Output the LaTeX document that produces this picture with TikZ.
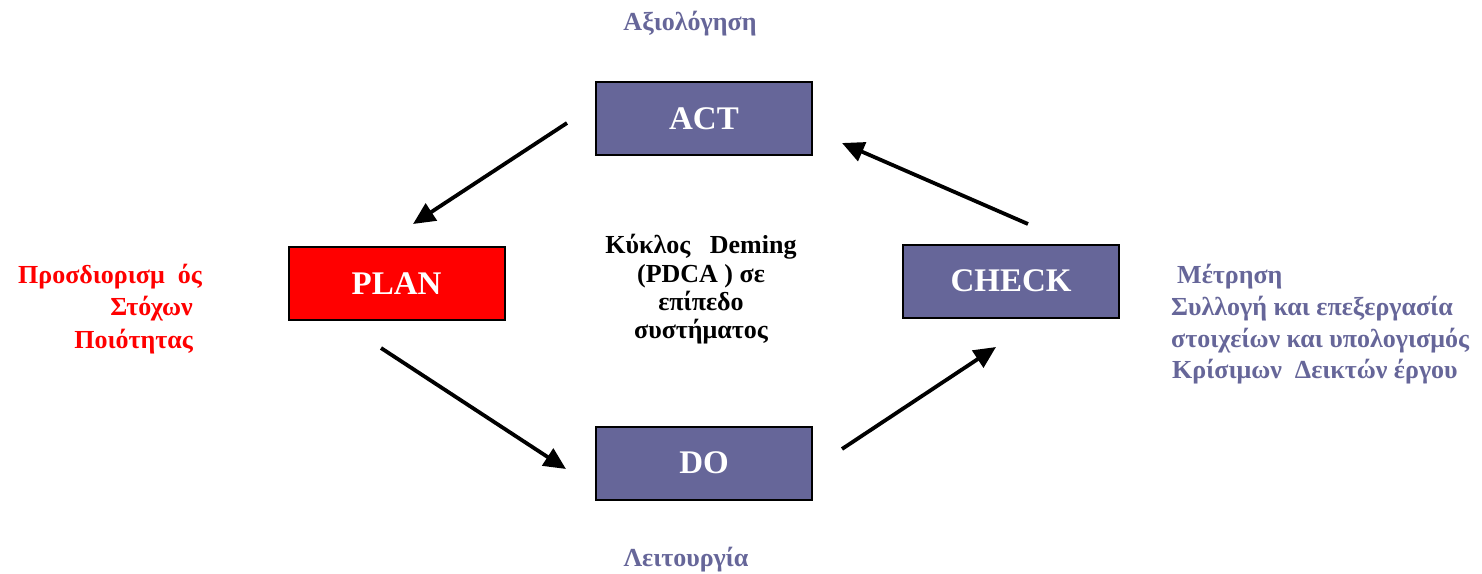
\documentclass[tikz,border=0pt]{standalone}
\usepackage{fontspec}
\setmainfont{Liberation Serif}
\usetikzlibrary{arrows.meta}
\definecolor{boxblue}{HTML}{666699}
\definecolor{myred}{HTML}{FF0000}
\tikzset{
  stage/.style={draw=black, line width=2pt, fill=boxblue, text=white,
    minimum width=216pt, minimum height=73pt, inner sep=0pt,
    font=\fontsize{33}{40}\selectfont\bfseries},
  flow/.style={line width=3.8pt, -{Triangle[length=22pt,width=20pt]}},
  note/.style={inner sep=0pt, anchor=base west, font=\fontsize{26}{31}\selectfont\bfseries},
  bluenote/.style={note, text=boxblue},
  rednote/.style={note, text=myred, anchor=base east},
  centernote/.style={inner sep=0pt, anchor=base, font=\fontsize{26}{31}\selectfont\bfseries}
}
\begin{document}
\begin{tikzpicture}[x=1pt,y=-1pt]
\useasboundingbox (0,0) rectangle (1482,573);
% boxes
\node[stage] (act) at (704,118.5) {ACT};
\node[stage, fill=myred] (plan) at (396.5,283.5) {PLAN};
\node[stage] (check) at (1011,281) {CHECK};
\node[stage] (do) at (704,463) {DO};
% arrow endpoints
\coordinate (a1s) at (567,123);  \coordinate (a1e) at (413,224);
\coordinate (a2s) at (381,348);  \coordinate (a2e) at (566,469);
\coordinate (a3s) at (842,449);  \coordinate (a3e) at (996,347);
\coordinate (a4s) at (1028,224); \coordinate (a4e) at (842,143);
\draw[flow] (a1s) -- (a1e);
\draw[flow] (a2s) -- (a2e);
\draw[flow] (a3s) -- (a3e);
\draw[flow] (a4s) -- (a4e);
% labels
\node[centernote, text=boxblue] (actlbl) at (690,30) {Αξιολόγηση};
\node[centernote, text=boxblue] (dolbl) at (686,566) {Λειτουργία};
\node[rednote] (r1) at (202,283) {Προσδιορισμ\ \ ός};
\node[rednote] (r2) at (193,315) {Στόχων};
\node[rednote] (r3) at (193,348) {Ποιότητας};
\node[centernote] (c1) at (701,253) {Κύκλος\ \ \ Deming};
\node[centernote] (c2) at (701,282) {(PDCA\ ) σε};
\node[centernote] (c3) at (701,310) {επίπεδο};
\node[centernote] (c4) at (701,338) {συστήματος};
\node[bluenote] (m1) at (1177,283) {Μέτρηση};
\node[bluenote] (m2) at (1171,315) {Συλλογή και επεξεργασία};
\node[bluenote] (m3) at (1171,347) {στοιχείων και υπολογισμός};
\node[bluenote] (m4) at (1172,378) {Κρίσιμων\ \ Δεικτών έργου};
\end{tikzpicture}
\end{document}
